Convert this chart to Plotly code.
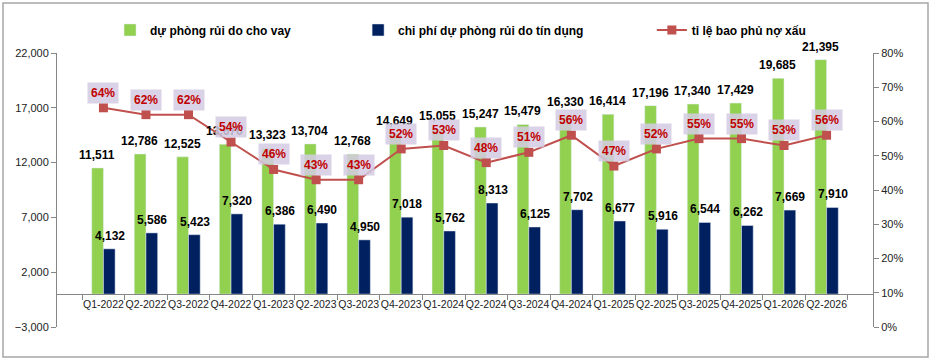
import plotly.graph_objects as go

quarters = ["Q1-2022", "Q2-2022", "Q3-2022", "Q4-2022", "Q1-2023", "Q2-2023", "Q3-2023",
            "Q4-2023", "Q1-2024", "Q2-2024", "Q3-2024", "Q4-2024", "Q1-2025", "Q2-2025",
            "Q3-2025", "Q4-2025", "Q1-2026", "Q2-2026"]
du_phong = [11511, 12786, 12525, 13676, 13323, 13704, 12768, 14649, 15055, 15247, 15479,
            16330, 16414, 17196, 17340, 17429, 19685, 21395]
chi_phi = [4132, 5586, 5423, 7320, 6386, 6490, 4950, 7018, 5762, 8313, 6125, 7702, 6677,
           5916, 6544, 6262, 7669, 7910]
ty_le_pct = [64, 62, 62, 54, 46, 43, 43, 52, 53, 48, 51, 56, 47, 52, 55, 55, 53, 56]
ty_le = [v / 100 for v in ty_le_pct]

name_green = "dự phòng rủi do cho vay"
name_navy = "chi phí dự phòng rủi do tín dụng"
name_line = "tỉ lệ bao phủ nợ xấu"

Y_MIN, Y_MAX = -3000, 22000
FONT = "Liberation Sans"
AX = "#868686"
BARGAP = 0.45
PLOT_W = 937 - 57 - 64
half_bar_px = PLOT_W / len(quarters) * (1 - BARGAP) / 4

fig = go.Figure()
fig.add_trace(go.Bar(x=quarters, y=du_phong, name=name_green, marker_color="#92D050",
                     legend="legend", showlegend=True))
fig.add_trace(go.Bar(x=quarters, y=chi_phi, name=name_navy, marker_color="#002060",
                     legend="legend2", showlegend=True))
fig.add_trace(go.Scatter(x=quarters, y=ty_le, name=name_line, yaxis="y2", mode="lines+markers",
                         line=dict(color="#C0504D", width=2),
                         marker=dict(symbol="square", size=9, color="#C0504D"),
                         cliponaxis=False, legend="legend3", showlegend=True))

# bar value labels
for series, shift in ((du_phong, -half_bar_px), (chi_phi, half_bar_px)):
    for q, v in zip(quarters, series):
        fig.add_annotation(x=q, y=v, xref="x", yref="y", xshift=shift, yshift=13,
                           yanchor="middle", showarrow=False, text=f"<b>{v:,}</b>",
                           font=dict(family=FONT, size=12, color="#000"))

# coverage ratio labels (drawn on top)
for q, v, p in zip(quarters, ty_le, ty_le_pct):
    fig.add_annotation(x=q, y=v, xref="x", yref="y2", yshift=15, showarrow=False,
                       text=f"<b>{p}%</b>", font=dict(family=FONT, size=12, color="#C00000"),
                       bgcolor="rgba(212,203,227,0.85)", borderpad=3)

leg_common = dict(orientation="h", yanchor="middle", y=1.084, bgcolor="rgba(0,0,0,0)",
                  font=dict(family=FONT, size=12, color="#000", weight="bold"))
fig.update_layout(
    width=937, height=364,
    showlegend=True,
    margin=dict(l=57, r=64, t=53, b=37),
    paper_bgcolor="white", plot_bgcolor="white",
    barmode="group", bargap=BARGAP, bargroupgap=0,
    font=dict(family=FONT, size=11, color="#222"),
    legend=dict(x=0.065, xanchor="left", **leg_common),
    legend2=dict(x=0.369, xanchor="left", **leg_common),
    legend3=dict(x=0.729, xanchor="left", **leg_common),
    xaxis=dict(type="category", anchor="free",
               position=(0 - Y_MIN) / (Y_MAX - Y_MIN),
               showline=True, linecolor=AX, linewidth=1, ticks="outside", ticklen=5,
               tickcolor=AX, tickson="boundaries", showgrid=False, automargin=False,
               tickangle=0,
               tickfont=dict(family=FONT, size=10.5, color="#222")),
    yaxis=dict(range=[Y_MIN, Y_MAX], tick0=Y_MIN, dtick=5000, tickformat=",",
               showline=True, linecolor=AX, ticks="outside", ticklen=5, tickcolor=AX,
               showgrid=False, zeroline=False, automargin=False,
               tickfont=dict(family=FONT, size=11, color="#222")),
    yaxis2=dict(range=[0, 0.8], dtick=0.1, tickformat=".0%", overlaying="y", side="right",
                showline=True, linecolor=AX, ticks="outside", ticklen=5, tickcolor=AX,
                showgrid=False, zeroline=False, automargin=False,
                tickfont=dict(family=FONT, size=11, color="#222")),
)

# outer chart border
fig.add_shape(type="rect", xref="paper", yref="paper",
              x0=(3 - 57) / 816, x1=(928 - 57) / 816,
              y0=(327 - 357) / 274, y1=(327 - 3) / 274,
              line=dict(color="#A6A6A6", width=1.5), fillcolor="rgba(0,0,0,0)", layer="below")

fig.write_html("out.html")
